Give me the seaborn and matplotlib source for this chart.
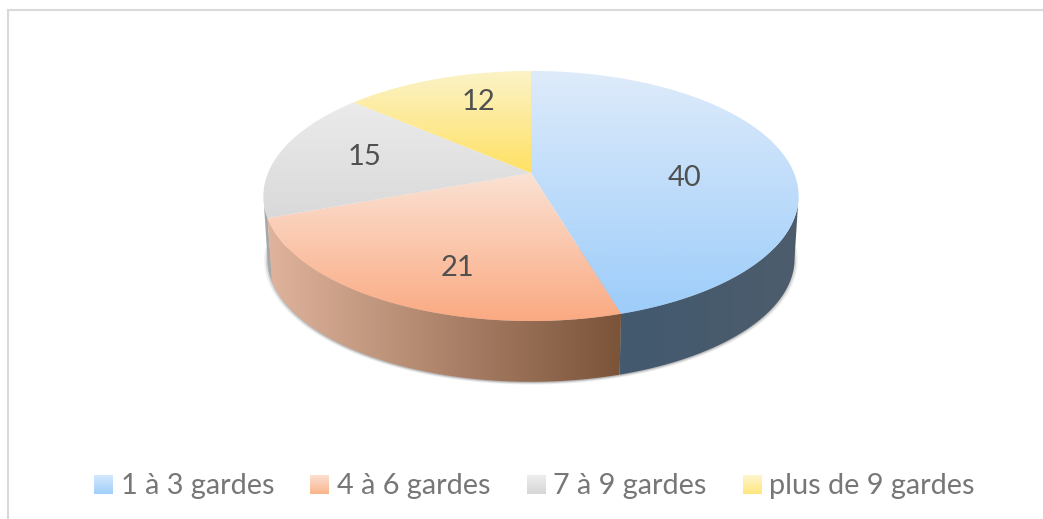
import numpy as np
import seaborn as sns
from matplotlib import pyplot as plt
from matplotlib.patches import Polygon, Rectangle

categories = ["1 à 3 gardes", "4 à 6 gardes", "7 à 9 gardes", "plus de 9 gardes"]
values = [40, 21, 15, 12]

# couleurs des parts : haut -> bas du degrade
top_colors = [["#deebfa", "#9dcdfa"], ["#fae2d4", "#fbaa82"], ["#ebebeb", "#d9d9d9"], ["#fbf3c8", "#ffe164"]]
# couleurs du bord : gauche -> droite
side_colors = [["#42596f", "#4d5d6c"], ["#e0b49c", "#7a5339"], ["#a8a8a8", "#a8a8a8"], ["#a8a8a8", "#a8a8a8"]]
legend_colors = [["#d3e8fc", "#a0cffb"], ["#fce0d2", "#fbb48c"], ["#eeeeee", "#d6d6d6"], ["#fdf5cf", "#ffe77c"]]

# position du camembert (pixels)
CX, CY = 531, 173
A, C, K = 263, 120.8, 0.184
DEPTH = 63
BOTTOM_SCALE = 0.985

label_xy = [(685, 178), (457, 268), (365, 157), (479, 102)]
swatch_x = [94, 310, 527, 743]
text_x = [121, 337, 553, 769]

sns.set_theme(style="white")
plt.rcParams["font.family"] = ["Lato", "DejaVu Sans"]


def persp(theta, scale=1.0, dy=0.0):
    # theta en degres, sens horaire depuis le haut
    t = np.radians(theta)
    w = 1 + K * np.cos(t)
    return CX + scale * A * np.sin(t) / w, CY - scale * C * np.cos(t) / w + dy


def fill_gradient(ax, pts, colors, horizontal=False):
    patch = Polygon(pts, closed=True, fc="none", ec="none", transform=ax.transData)
    ax.add_patch(patch)
    cmap = sns.blend_palette(colors, as_cmap=True)
    grad = np.linspace(0, 1, 256)
    grad = grad.reshape(1, -1) if horizontal else grad.reshape(-1, 1)
    x0, x1, y0, y1 = pts[:, 0].min(), pts[:, 0].max(), pts[:, 1].min(), pts[:, 1].max()
    im = ax.imshow(grad, cmap=cmap, extent=(x0, x1, y1, y0), origin="upper", aspect="auto", vmin=0, vmax=1, zorder=2)
    im.set_clip_path(patch)
    return im


fig = plt.figure(figsize=(10.43, 5.19), dpi=100, facecolor="white")
ax = fig.add_axes([0, 0, 1, 1])
ax.set_axis_off()

# le cadre sort de l'image a droite et en bas
ax.add_patch(Rectangle((7.5, 10), 1100, 600, fc="white", ec="#d9d9d9", lw=1.5))

bounds = np.concatenate([[0], np.cumsum(values) / np.sum(values) * 360])

# ombre sous le disque
for grow, alpha in [(1.012, 0.12), (1.006, 0.22), (1.0, 0.35)]:
    th = np.linspace(95, 265, 200)
    sx, sy = persp(th, BOTTOM_SCALE * grow, DEPTH + 1)
    ax.add_patch(Polygon(np.column_stack([sx, sy]), closed=True, fc="#7f7f7f", ec="none", alpha=alpha, zorder=1))

# bords
left_edge = np.degrees(np.arccos(-K))
for i in range(len(values)):
    a0 = max(bounds[i], left_edge)
    a1 = min(bounds[i + 1], 360 - left_edge)
    if a1 <= a0:
        continue
    th = np.linspace(a0, a1, 120)
    tx, ty = persp(th)
    bx, by = persp(th, BOTTOM_SCALE, DEPTH)
    pts = np.column_stack([np.r_[tx, bx[::-1]], np.r_[ty, by[::-1]]])
    fill_gradient(ax, pts, side_colors[i], horizontal=True)

# dessus
for i in range(len(values)):
    th = np.linspace(bounds[i], bounds[i + 1], 200)
    tx, ty = persp(th)
    pts = np.column_stack([np.r_[CX, tx], np.r_[CY, ty]])
    fill_gradient(ax, pts, top_colors[i])

# etiquettes
for v, (lx, ly) in zip(values, label_xy):
    ax.text(lx, ly, str(v), ha="center", va="center", fontsize=21, color="#505050", zorder=3)

# legende
for i, cat in enumerate(categories):
    sq = np.array([[swatch_x[i], 475], [swatch_x[i] + 19, 475], [swatch_x[i] + 19, 494], [swatch_x[i], 494]])
    fill_gradient(ax, sq, legend_colors[i])
    ax.text(text_x[i], 494, cat, ha="left", va="baseline", fontsize=20.8, color="#777777", zorder=3)

ax.set_xlim(0, 1043)
ax.set_ylim(519, 0)

fig.savefig("out.png", dpi=100, facecolor="white")
